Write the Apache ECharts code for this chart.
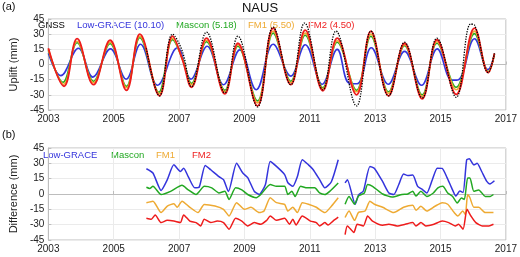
<!DOCTYPE html>
<html>
<head>
<meta charset="utf-8">
<script src="https://cdn.jsdelivr.net/npm/echarts@6/dist/echarts.min.js"></script>
<style>
  html, body { margin: 0; padding: 0; background: #fff; }
  #chart { width: 520px; height: 257px; }
</style>
</head>
<body>
<div id="chart"></div>
<script>
// panel (a): seasonal uplift, [decimal year, mm]
var upGnss = [[2006.0,16],[2006.4,-31],[2006.8,30],[2007.1,13],[2007.38,-22],[2007.84,32],[2008.4,-28],[2008.8,28],[2009.4,-42],[2009.88,37],[2010.42,-20],[2010.84,41],[2011.4,-25],[2011.8,33],[2012.43,-41],[2012.87,33],[2013.41,-31],[2013.9,22],[2014.44,-33],[2014.89,26],[2015.48,-32.5],[2015.92,40],[2016.04,39],[2016.46,-8],[2016.65,11]];
var upLow = [[2003.0,11],[2003.38,-11],[2003.92,16],[2004.36,-12.5],[2004.9,15.5],[2005.38,-14.5],[2005.82,20],[2006.34,-20.5],[2006.95,16.5],[2007.36,-14.5],[2007.86,18],[2008.36,-20],[2008.86,14.5],[2009.36,-25],[2009.88,20],[2010.42,-11.5],[2010.86,19.5],[2011.38,-19.5],[2011.84,15],[2012.2,-18.5],[2012.45,-19],[2012.88,16.5],[2013.4,-19.5],[2013.9,13],[2014.42,-20.5],[2014.9,15.5],[2015.35,-15.5],[2015.55,-15],[2016.04,25.5],[2016.45,-5],[2016.65,10]];
var upMascon = [[2003.0,14],[2003.45,-17.5],[2003.88,21.5],[2004.38,-16.5],[2004.89,20.5],[2005.39,-21.5],[2005.8,26.5],[2006.38,-27.5],[2006.8,24.5],[2007.1,6],[2007.38,-18.5],[2007.84,22.5],[2008.4,-25.5],[2008.8,18],[2009.4,-36],[2009.88,31],[2010.42,-16.5],[2010.86,29],[2011.4,-23],[2011.84,22],[2012.43,-25.5],[2012.87,28],[2013.41,-27],[2013.9,18.5],[2014.44,-30],[2014.89,21],[2015.48,-22.5],[2016.04,30.5],[2016.46,-7],[2016.65,10]];
var upFm1 = [[2003.0,15],[2003.47,-19.5],[2003.88,23],[2004.38,-18],[2004.89,22],[2005.39,-23],[2005.8,28],[2006.4,-29],[2006.8,26],[2007.1,5.5],[2007.38,-20],[2007.84,24],[2008.4,-27],[2008.8,19.5],[2009.4,-38],[2009.88,33],[2010.42,-18],[2010.86,31],[2011.4,-24],[2011.84,23.5],[2012.43,-27],[2012.87,30],[2013.41,-28.5],[2013.9,19.5],[2014.44,-31.5],[2014.89,22.5],[2015.48,-25],[2016.04,33],[2016.46,-7.5],[2016.65,10.5]];
var upFm2 = [[2003.0,16],[2003.48,-21.5],[2003.88,25.5],[2004.38,-20],[2004.89,24],[2005.39,-25.5],[2005.8,30],[2006.4,-31],[2006.8,28],[2007.1,5],[2007.38,-22.5],[2007.84,26],[2008.4,-29],[2008.8,21],[2009.4,-41],[2009.88,36],[2010.42,-20],[2010.86,34],[2011.4,-26],[2011.84,26],[2012.43,-30],[2012.87,33],[2013.41,-31],[2013.9,21],[2014.44,-34],[2014.89,24.5],[2015.48,-29.5],[2016.04,36],[2016.46,-8],[2016.65,11]];

// panel (b): difference with GNSS, null = data gap
var dfLow = [[2006.0,24.7],[2006.2,20.5],[2006.45,3.5],[2006.64,14],[2006.84,28.5],[2007.04,22],[2007.14,25.3],[2007.28,17],[2007.48,6],[2007.62,7],[2007.8,28],[2007.97,23.7],[2008.22,17],[2008.36,14],[2008.51,2.5],[2008.76,30],[2008.95,20.5],[2009.1,16],[2009.3,2.7],[2009.45,-0.5],[2009.64,9],[2009.79,31.8],[2009.98,27],[2010.23,19],[2010.33,11],[2010.48,7.5],[2010.62,17],[2010.77,33.5],[2010.96,28.5],[2011.1,24],[2011.3,14],[2011.46,6],[2011.66,12],[2011.87,33.5],[2011.97,null],[2012.08,10.8],[2012.15,14],[2012.39,-10],[2012.49,-1],[2012.64,3],[2012.84,27],[2012.98,25],[2013.23,12],[2013.42,1],[2013.57,-0.5],[2013.72,9],[2013.87,19.5],[2014.0,18],[2014.15,18.5],[2014.3,7.5],[2014.45,4.3],[2014.58,1],[2014.75,14],[2014.9,25.3],[2015.05,25],[2015.2,16],[2015.34,6],[2015.47,-2],[2015.59,3],[2015.69,1.5],[2015.8,33.4],[2015.88,34.4],[2016.02,28.5],[2016.12,30],[2016.26,22],[2016.41,12.6],[2016.51,9.9],[2016.65,13]];
var dfMascon = [[2006.0,6.6],[2006.1,5.5],[2006.2,7.5],[2006.45,-0.5],[2006.74,2.6],[2007.09,8.5],[2007.28,4],[2007.52,-0.5],[2007.62,2.5],[2007.77,7.5],[2008.0,6],[2008.22,1],[2008.4,2.6],[2008.53,-5.3],[2008.73,6],[2008.92,4],[2009.1,-0.5],[2009.36,-3.6],[2009.5,-0.5],[2009.79,9.2],[2009.98,7.5],[2010.23,7.5],[2010.33,-0.5],[2010.45,2.6],[2010.55,-2.4],[2010.72,7.5],[2010.92,6],[2011.15,6],[2011.3,1],[2011.46,-0.5],[2011.61,2.6],[2011.87,10.8],[2011.97,null],[2012.08,-10],[2012.2,-2.4],[2012.37,-10],[2012.49,-2],[2012.67,1],[2012.77,9.2],[2012.92,7.5],[2013.23,0],[2013.52,-3],[2013.82,-0.5],[2014.0,0],[2014.15,2.6],[2014.25,-2],[2014.4,2.6],[2014.58,-2.4],[2014.78,1],[2014.92,6],[2015.07,7.5],[2015.22,1],[2015.37,-2.4],[2015.51,-8.8],[2015.64,-4],[2015.73,-5.3],[2015.83,15.7],[2015.9,15.7],[2016.02,2.6],[2016.17,4],[2016.37,-2.4],[2016.52,-2.4],[2016.62,-0.5]];
var dfFm1 = [[2006.0,-8.5],[2006.2,-7],[2006.45,-18.2],[2006.64,-11.8],[2006.84,-9.5],[2006.94,-13],[2007.09,-7],[2007.33,-13],[2007.58,-18.2],[2007.77,-10.2],[2008.1,-11.8],[2008.36,-15],[2008.53,-21.5],[2008.76,-8.5],[2009.0,-15],[2009.2,-13],[2009.45,-18.2],[2009.6,-16.7],[2009.79,-3.7],[2009.98,-8.5],[2010.23,-10.2],[2010.33,-16.7],[2010.48,-13],[2010.62,-18.2],[2010.77,-8.5],[2010.96,-10],[2011.2,-13],[2011.46,-18.2],[2011.66,-12],[2011.87,-3.7],[2011.97,null],[2012.08,-23],[2012.2,-16.7],[2012.37,-25.8],[2012.49,-18],[2012.69,-16.7],[2012.84,-7],[2012.98,-10],[2013.23,-13],[2013.57,-18.2],[2013.87,-13],[2014.15,-11],[2014.25,-16],[2014.4,-12],[2014.58,-16.7],[2014.83,-12],[2015.05,-8.5],[2015.22,-10],[2015.42,-18.2],[2015.53,-21.5],[2015.68,-16.7],[2015.76,-20],[2015.83,-0.5],[2015.9,-3.7],[2016.02,-13],[2016.17,-13],[2016.37,-18.2],[2016.62,-18.2]];
var dfFm2 = [[2006.0,-23.7],[2006.15,-24.7],[2006.27,-20.5],[2006.45,-28],[2006.64,-25.8],[2006.84,-26.5],[2007.04,-28],[2007.14,-20.5],[2007.33,-26.5],[2007.52,-28],[2007.66,-31.2],[2007.77,-24.7],[2007.97,-28],[2008.17,-26.5],[2008.36,-28],[2008.53,-34.4],[2008.73,-23.7],[2008.92,-26.5],[2009.1,-31.2],[2009.3,-28],[2009.5,-29.6],[2009.68,-25.8],[2009.79,-21.5],[2009.98,-25.8],[2010.23,-23.7],[2010.38,-29.6],[2010.48,-24.7],[2010.58,-30.3],[2010.77,-21.5],[2011.02,-26.5],[2011.2,-28],[2011.3,-31.2],[2011.46,-28],[2011.56,-30.3],[2011.71,-26.5],[2011.87,-22.7],[2011.97,null],[2012.08,-39.8],[2012.15,-31.2],[2012.35,-37.6],[2012.45,-29.6],[2012.64,-31.2],[2012.77,-21.5],[2012.92,-26.5],[2013.23,-30.5],[2013.42,-29.6],[2013.67,-31.2],[2013.92,-29.6],[2014.15,-28],[2014.25,-31.2],[2014.4,-28],[2014.55,-31.2],[2014.8,-29.6],[2015.05,-26.5],[2015.25,-28],[2015.45,-31.2],[2015.55,-29.6],[2015.69,-34.4],[2015.81,-15],[2015.93,-21.5],[2016.08,-28],[2016.28,-31.2],[2016.48,-31.2],[2016.62,-29.6]];

var legendTop = [['GNSS', '#000000', 38], ['Low-GRACE (10.10)', '#3434dc', 77], ['Mascon (5.18)', '#22a822', 176], ['FM1 (5.50)', '#eeaa33', 248], ['FM2 (4.50)', '#ee2222', 308]];
var legendBot = [['Low-GRACE', '#3434dc', 43], ['Mascon', '#22a822', 111], ['FM1', '#eeaa33', 156], ['FM2', '#ee2222', 192]];

var myChart = echarts.init(document.getElementById('chart'));
var gridColor = '#ebebeb';
var boxColor = '#bdbdbd';

function xAx(idx) {
    return {
        type: 'value', gridIndex: idx, min: 2003, max: 2017, interval: 2,
        axisLine: { lineStyle: { color: boxColor } },
        axisTick: { inside: true, length: 3, lineStyle: { color: boxColor } },
        axisLabel: { color: '#222', fontSize: 10, margin: 4, fontFamily: 'Liberation Sans',
            formatter: function (v) { return String(v); } },
        splitLine: { show: true, lineStyle: { color: gridColor } }
    };
}
function yAx(idx, name) {
    return {
        type: 'value', gridIndex: idx, min: -45, max: 45, interval: 15,
        name: name, nameLocation: 'middle', nameGap: 27,
        nameTextStyle: { color: '#222', fontSize: 11, fontFamily: 'Liberation Sans' },
        axisLine: { show: true, lineStyle: { color: boxColor } },
        axisTick: { inside: true, length: 3, lineStyle: { color: boxColor } },
        axisLabel: { color: '#222', fontSize: 10, margin: 4, fontFamily: 'Liberation Sans' },
        splitLine: { show: true, lineStyle: { color: gridColor } }
    };
}
function line(data, color, idx, smooth, width, dash) {
    return {
        type: 'line', data: data, xAxisIndex: idx, yAxisIndex: idx,
        showSymbol: false, smooth: smooth,
        lineStyle: { color: color, width: width, type: dash || 'solid' },
        animation: false
    };
}

var graphics = [
    { type: 'text', left: 'center', top: 2, style: { text: 'NAUS', fontSize: 13, fontFamily: 'Liberation Sans', fill: '#111' } },
    { type: 'text', left: 2, top: 1, style: { text: '(a)', fontSize: 11, fontFamily: 'Liberation Sans', fill: '#111' } },
    { type: 'text', left: 2, top: 129, style: { text: '(b)', fontSize: 11, fontFamily: 'Liberation Sans', fill: '#111' } }
];
legendTop.forEach(function (d) {
    graphics.push({ type: 'text', left: d[2], top: 20, style: { text: d[0], fontSize: 9.5, fontFamily: 'Liberation Sans', fill: d[1] } });
});
legendBot.forEach(function (d) {
    graphics.push({ type: 'text', left: d[2], top: 150, style: { text: d[0], fontSize: 9.5, fontFamily: 'Liberation Sans', fill: d[1] } });
});

option = {
    backgroundColor: '#fff',
    grid: [
        { left: 33, right: 12, top: 19, height: 91, show: true, borderColor: boxColor, borderWidth: 1 },
        { left: 33, right: 12, top: 148, height: 92, show: true, borderColor: boxColor, borderWidth: 1 }
    ],
    xAxis: [xAx(0), xAx(1)],
    yAxis: [yAx(0, 'Uplift (mm)'), yAx(1, 'Difference (mm)')],
    graphic: graphics,
    series: [
        line(upLow, '#3434dc', 0, 0.4, 1.6),
        line(upMascon, '#22a822', 0, 0.4, 1.6),
        line(upFm1, '#eeaa33', 0, 0.4, 1.6),
        line(upFm2, '#ee1c1c', 0, 0.4, 1.8),
        line(upGnss, '#000000', 0, 0.4, 1.3, 'dotted'),
        line(dfLow, '#3434dc', 1, 0.2, 1.5),
        line(dfMascon, '#22a822', 1, 0.2, 1.5),
        line(dfFm1, '#eeaa33', 1, 0.2, 1.5),
        line(dfFm2, '#ee1c1c', 1, 0.2, 1.5)
    ]
};
myChart.setOption(option, true);
</script>
</body>
</html>
